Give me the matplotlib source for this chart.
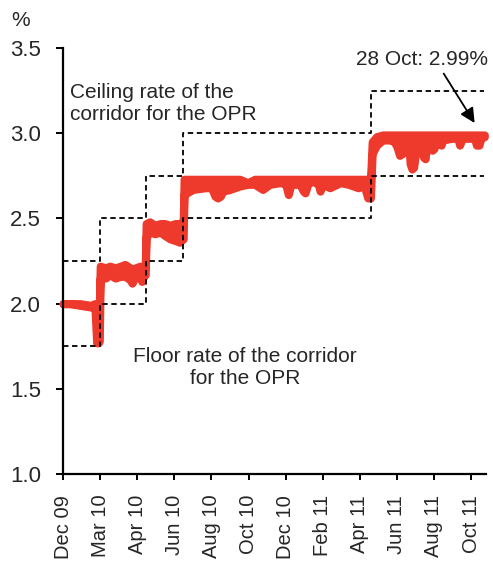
import matplotlib
matplotlib.use("Agg")
import matplotlib.pyplot as plt
import numpy as np

plt.rcParams['font.family'] = ['Liberation Sans', 'DejaVu Sans']

# eje x: dias habiles desde dic 2009 (marcas cada 42 dias)
etiquetas = ['Dec 09', 'Mar 10', 'Apr 10', 'Jun 10', 'Aug 10', 'Oct 10',
             'Dec 10', 'Feb 11', 'Apr 11', 'Jun 11', 'Aug 11', 'Oct 11']
pos_marcas = [0, 42, 84, 126, 168, 210, 252, 294, 336, 378, 420, 462]

# corredor de la OPR (escalones)
corredor_x = [0, 42, 94, 136, 349, 477]
techo = [2.25, 2.50, 2.75, 3.00, 3.25]
piso = [1.75, 2.00, 2.25, 2.50, 2.75]

# tasa interbancaria: envolvente alta / baja de la serie diaria
dias = [0, 8, 19, 31, 36, 38, 40, 41,
        42, 48, 53, 59, 65, 70, 76, 78, 82, 87, 89, 92, 93,
        94, 98, 104, 110, 115, 121, 127, 132, 135, 136,
        137, 147, 161, 168, 172, 175, 178, 181, 189, 200, 209, 217, 226, 234, 246,
        252, 255, 258, 268, 272, 274, 277, 282, 289, 291, 294, 302, 314, 323, 334,
        341, 345, 348,
        350, 355, 362, 370, 375, 378, 381, 384, 387, 391, 393, 395, 397, 400,
        403, 406, 408, 410, 412, 416, 418, 420, 422, 426, 428, 430, 440, 447,
        449, 452, 466, 468, 471, 473, 477]
alta = [2.00, 2.00, 2.00, 1.99, 2.00, 1.99, 1.99, 1.99,
        2.22, 2.21, 2.22, 2.21, 2.22, 2.23, 2.21, 2.20, 2.21, 2.22, 2.21, 2.22, 2.22,
        2.47, 2.48, 2.46, 2.47, 2.47, 2.46, 2.47, 2.47, 2.48, 2.48,
        2.73, 2.73, 2.73, 2.73, 2.73, 2.73, 2.73, 2.73, 2.73, 2.73, 2.71, 2.73, 2.73, 2.73, 2.73,
        2.73, 2.73, 2.73, 2.73, 2.73, 2.73, 2.73, 2.73, 2.73, 2.73, 2.73, 2.73, 2.73, 2.73, 2.73,
        2.73, 2.73, 2.72,
        2.95, 2.98, 2.99, 2.99, 2.99, 2.99, 2.99, 2.99, 2.99, 2.99, 2.99, 2.99, 2.99, 2.99,
        2.99, 2.99, 2.99, 2.99, 2.99, 2.99, 2.99, 2.99, 2.99, 2.99, 2.99, 2.99, 2.99, 2.99,
        2.99, 2.99, 2.99, 2.99, 2.99, 2.99, 2.99]
baja = [2.00, 2.00, 1.99, 1.98, 1.98, 1.77, 1.77, 1.78,
        2.15, 2.15, 2.17, 2.15, 2.16, 2.16, 2.14, 2.12, 2.16, 2.16, 2.13, 2.17, 2.17,
        2.39, 2.42, 2.41, 2.42, 2.40, 2.38, 2.37, 2.36, 2.38, 2.38,
        2.64, 2.67, 2.68, 2.68, 2.63, 2.62, 2.63, 2.66, 2.67, 2.69, 2.70, 2.70, 2.67, 2.70, 2.71,
        2.70, 2.64, 2.70, 2.70, 2.66, 2.65, 2.70, 2.72, 2.70, 2.66, 2.70, 2.68, 2.71, 2.70, 2.68,
        2.69, 2.62, 2.62,
        2.88, 2.93, 2.96, 2.96, 2.95, 2.92, 2.87, 2.88, 2.96, 2.96, 2.82, 2.79, 2.80, 2.92,
        2.96, 2.96, 2.86, 2.85, 2.95, 2.96, 2.90, 2.91, 2.96, 2.96, 2.93, 2.96, 2.97, 2.97,
        2.93, 2.97, 2.97, 2.93, 2.93, 2.97, 2.98]

rojo = '#EE3A2C'
gris = '#262626'

fig = plt.figure(figsize=(4.93, 5.65), dpi=100)
ax = fig.add_axes([0.128, 0.161, 0.858, 0.754])

ax.fill_between(dias, baja, alta, color=rojo, edgecolor=rojo, linewidth=5.8,
                joinstyle='round', capstyle='round', clip_on=False, zorder=2)

ax.step(corredor_x, techo + [techo[-1]], where='post', color='black',
        linestyle=(0, (3, 2)), linewidth=1.3, zorder=3)
ax.step(corredor_x, piso + [piso[-1]], where='post', color='black',
        linestyle=(0, (3, 2)), linewidth=1.3, zorder=3)

ax.set_xlim(0, 479)
ax.set_ylim(1.0, 3.5)
ax.set_yticks([1.0, 1.5, 2.0, 2.5, 3.0, 3.5])
ax.set_yticklabels(['1.0', '1.5', '2.0', '2.5', '3.0', '3.5'])
ax.set_xticks(pos_marcas)
ax.set_xticklabels(etiquetas, rotation=90)

for lado in ['top', 'right']:
    ax.spines[lado].set_visible(False)
for lado in ['left', 'bottom']:
    ax.spines[lado].set_linewidth(1.6)
    ax.spines[lado].set_color('black')

ax.tick_params(axis='y', direction='out', length=5, width=1.4, pad=11,
               labelsize=16, labelcolor=gris)
ax.tick_params(axis='x', direction='out', length=4, width=1.4, pad=11,
               labelsize=14.5, labelcolor=gris)

ax.text(8, 3.175, 'Ceiling rate of the\ncorridor for the OPR', fontsize=15,
        color=gris, ha='left', va='center', linespacing=1.2)
ax.text(206, 1.625, 'Floor rate of the corridor\nfor the OPR', fontsize=15,
        color=gris, ha='center', va='center', linespacing=1.15)
ax.text(406, 3.43, '28 Oct: 2.99%', fontsize=15, color=gris,
        ha='center', va='center')
ax.annotate('', xy=(466, 3.06), xytext=(431, 3.35),
            arrowprops=dict(arrowstyle='-|>', color='black', lw=1.3,
                            mutation_scale=22, shrinkA=0, shrinkB=0))

fig.text(0.022, 0.963, '%', fontsize=15, color=gris, ha='left', va='center')

fig.savefig('out.png', dpi=100)
